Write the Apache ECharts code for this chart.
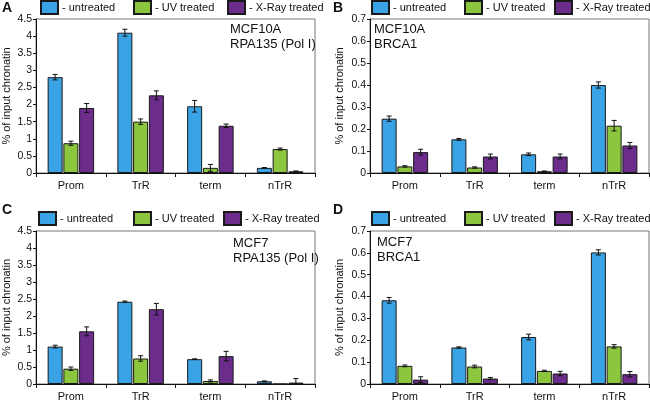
<!DOCTYPE html>
<html>
<head>
<meta charset="utf-8">
<script src="https://cdn.jsdelivr.net/npm/echarts@6/dist/echarts.min.js"></script>
<style>html,body{margin:0;padding:0;background:#fff}#c{width:650px;height:402px}</style>
</head>
<body>
<div id="c"></div>
<script>
const categories = ['Prom', 'TrR', 'term', 'nTrR'];
const seriesNames = ['untreated', 'UV treated', 'X-Ray treated'];

// Panel A: MCF10A RPA135 (Pol I)
const A_untreated = [2.8, 4.1, 1.95, 0.15];
const A_untreated_err = [0.08, 0.1, 0.17, 0.01];
const A_uv = [0.87, 1.5, 0.15, 0.7];
const A_uv_err = [0.06, 0.08, 0.1, 0.03];
const A_xray = [1.9, 2.27, 1.38, 0.05];
const A_xray_err = [0.13, 0.13, 0.05, 0.01];

// Panel B: MCF10A BRCA1
const B_untreated = [0.247, 0.153, 0.085, 0.40];
const B_untreated_err = [0.012, 0.004, 0.006, 0.014];
const B_uv = [0.03, 0.025, 0.008, 0.215];
const B_uv_err = [0.003, 0.003, 0.001, 0.024];
const B_xray = [0.095, 0.075, 0.075, 0.125];
const B_xray_err = [0.013, 0.011, 0.011, 0.014];

// Panel C: MCF7 RPA135 (Pol I)
const C_untreated = [1.1, 2.42, 0.73, 0.08];
const C_untreated_err = [0.04, 0.02, 0.01, 0.01];
const C_uv = [0.45, 0.75, 0.09, 0.0];
const C_uv_err = [0.05, 0.08, 0.03, 0.0];
const C_xray = [1.55, 2.2, 0.82, 0.04];
const C_xray_err = [0.13, 0.17, 0.14, 0.12];

// Panel D: MCF7 BRCA1
const D_untreated = [0.383, 0.167, 0.215, 0.602];
const D_untreated_err = [0.013, 0.003, 0.013, 0.012];
const D_uv = [0.083, 0.08, 0.06, 0.172];
const D_uv_err = [0.004, 0.006, 0.003, 0.008];
const D_xray = [0.02, 0.025, 0.048, 0.045];
const D_xray_err = [0.013, 0.005, 0.01, 0.012];

const yTicksPol = { max: 4.5, interval: 0.5 };
const yTicksBrca = { max: 0.7, interval: 0.1 };

const colors = ['#3AA3E6', '#8CC63E', '#6B2C8C'];
const FONT = 'Liberation Sans, Arial, sans-serif';

const panels = [
  { letter: 'A', vals: [A_untreated, A_uv, A_xray], errs: [A_untreated_err, A_uv_err, A_xray_err], y: yTicksPol,
    grid: { left: 36, top: 19, width: 279, height: 154 }, note: ['MCF10A', 'RPA135 (Pol I)'], noteX: 230, noteY: 22,
    legendTop: 0, legendLefts: [40, 133, 227], letterPos: [2, 1], nameGap: 24 },
  { letter: 'B', vals: [B_untreated, B_uv, B_xray], errs: [B_untreated_err, B_uv_err, B_xray_err], y: yTicksBrca,
    grid: { left: 370, top: 19, width: 279, height: 154 }, note: ['MCF10A', 'BRCA1'], noteX: 374, noteY: 22,
    legendTop: 0, legendLefts: [371, 464, 554], letterPos: [333, 1], nameGap: 25 },
  { letter: 'C', vals: [C_untreated, C_uv, C_xray], errs: [C_untreated_err, C_uv_err, C_xray_err], y: yTicksPol,
    grid: { left: 36, top: 231, width: 279, height: 156 }, note: ['MCF7', 'RPA135 (Pol I)'], noteX: 233, noteY: 236,
    legendTop: 211, legendLefts: [38, 133, 223], letterPos: [2, 203], nameGap: 24 },
  { letter: 'D', vals: [D_untreated, D_uv, D_xray], errs: [D_untreated_err, D_uv_err, D_xray_err], y: yTicksBrca,
    grid: { left: 370, top: 231, width: 279, height: 156 }, note: ['MCF7', 'BRCA1'], noteX: 377, noteY: 235,
    legendTop: 211, legendLefts: [371, 464, 554], letterPos: [333, 203], nameGap: 25 }
];

const BAR_W = 15, BAR_GAP = 0.05;
const grids = [], xAxes = [], yAxes = [], series = [], legends = [], graphics = [];

panels.forEach((p, pi) => {
  grids.push(Object.assign({ show: true, borderColor: '#777', borderWidth: 1, containLabel: false }, p.grid));
  xAxes.push({
    type: 'category', gridIndex: pi, data: categories,
    axisLine: { lineStyle: { color: '#111', width: 1 } },
    axisTick: { show: true, interval: 0, length: 4, lineStyle: { color: '#111' } },
    axisLabel: { color: '#111', fontSize: 11, fontFamily: FONT, margin: 7 }
  });
  yAxes.push({
    type: 'value', gridIndex: pi, min: 0, max: p.y.max, interval: p.y.interval,
    name: '% of input chronatin', nameLocation: 'middle', nameGap: p.nameGap, nameRotate: 90,
    nameTextStyle: { color: '#111', fontSize: 11, fontFamily: FONT },
    axisLine: { show: true, lineStyle: { color: '#111', width: 1 } },
    axisTick: { show: true, length: 3, lineStyle: { color: '#111' } },
    axisLabel: { color: '#111', fontSize: 10.5, fontFamily: FONT, margin: 4 },
    splitLine: { show: false }
  });
  for (let k = 0; k < 3; k++) {
    series.push({
      type: 'bar', name: seriesNames[k], xAxisIndex: pi, yAxisIndex: pi,
      data: p.vals[k], barWidth: BAR_W, barGap: (BAR_GAP * 100) + '%',
      itemStyle: { color: colors[k], borderColor: '#1a1a1a', borderWidth: 1 },
      emphasis: { disabled: true }, animation: false
    });
  }
  for (let k = 0; k < 3; k++) {
    const off = (k - 1) * BAR_W * (1 + BAR_GAP);
    series.push({
      type: 'custom', xAxisIndex: pi, yAxisIndex: pi, clip: true, z: 10, animation: false, silent: true,
      data: p.vals[k].map((v, i) => [i, v, p.errs[k][i]]),
      encode: { x: 0, y: 1 },
      renderItem: function (params, api) {
        const i = api.value(0), v = api.value(1), e = api.value(2);
        if (!e) return null;
        const hi = api.coord([i, v + e]);
        const lo = api.coord([i, v - e]);
        const x = hi[0] + off;
        const st = { stroke: '#111', lineWidth: 1 };
        return {
          type: 'group', children: [
            { type: 'line', shape: { x1: x, y1: hi[1], x2: x, y2: lo[1] }, style: st },
            { type: 'line', shape: { x1: x - 2.5, y1: hi[1], x2: x + 2.5, y2: hi[1] }, style: st },
            { type: 'line', shape: { x1: x - 2.5, y1: lo[1], x2: x + 2.5, y2: lo[1] }, style: st }
          ]
        };
      }
    });
  }
  for (let k = 0; k < 3; k++) {
    legends.push({
      left: p.legendLefts[k], top: p.legendTop, orient: 'horizontal', icon: 'rect',
      data: [seriesNames[k]], itemWidth: 17, itemHeight: 13, selectedMode: false,
      formatter: '- {name}', padding: 0,
      textStyle: { color: '#111', fontSize: 11, fontFamily: FONT, padding: [0, 0, 0, -1] }
    });
  }
  graphics.push({
    type: 'text', left: p.letterPos[0], top: p.letterPos[1],
    style: { text: p.letter, fill: '#111', font: 'bold 14px ' + FONT }
  });
  graphics.push({
    type: 'text', left: p.noteX, top: p.noteY,
    style: { text: p.note.join('\n'), fill: '#111', font: '13px ' + FONT, lineHeight: 15 }
  });
});

const chart = echarts.init(document.getElementById('c'), null, { renderer: 'canvas' });
chart.setOption({
  animation: false,
  grid: grids, xAxis: xAxes, yAxis: yAxes, series: series, legend: legends, graphic: graphics
});
</script>
</body>
</html>
